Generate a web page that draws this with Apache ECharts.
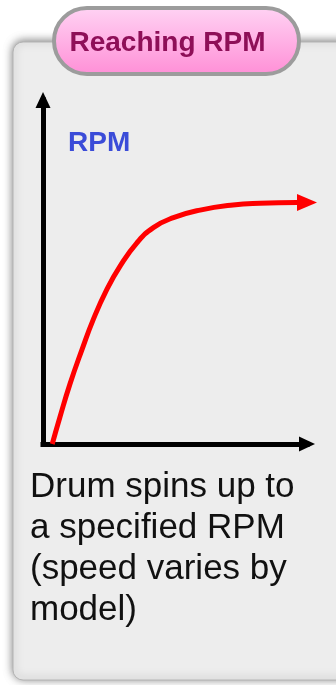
<!DOCTYPE html>
<html>
<head>
<meta charset="utf-8">
<script src="https://cdn.jsdelivr.net/npm/echarts@6/dist/echarts.min.js"></script>
<style>
html,body{margin:0;padding:0;background:#ffffff;}
#main{width:336px;height:685px;}
</style>
</head>
<body>
<div id="main"></div>
<script>
// ---- data ----
const titleText = 'Reaching RPM';
const axisLabelText = 'RPM';
const captionLines = ['Drum spins up to', 'a specified RPM', '(speed varies by', 'model)'];
const timeValues = [3.5, 6.4, 10.2, 14.7, 19.1, 24.1, 29.2, 35.5, 41.8, 49.4, 59.5, 72.0, 82.2, 96.2, 100];
const rpmValues  = [0, 7.8, 17.4, 27.3, 36.3, 44.8, 51.7, 58.4, 62.9, 65.8, 68.0, 69.5, 70.0, 70.2, 70.2];

const FONT = "'Liberation Sans', Arial, sans-serif";

const seriesData = timeValues.map(function (t, i) {
  const item = { value: [t, rpmValues[i]] };
  if (i === timeValues.length - 1) {
    item.symbol = 'triangle';
    item.symbolRotate = -90;
    item.symbolSize = [17, 20];
    item.itemStyle = { color: '#ff0000' };
  }
  return item;
});

const chart = echarts.init(document.getElementById('main'), null, { renderer: 'canvas' });

const axisLineCommon = {
  show: true,
  onZero: false,
  symbol: ['none', 'triangle'],
  symbolSize: [15, 16],
  lineStyle: { color: '#000000', width: 5, cap: 'square' }
};

chart.setOption({
  animation: false,
  backgroundColor: '#ffffff',
  graphic: [
    {
      type: 'rect',
      z: -10,
      shape: { x: 13, y: 42, width: 345, height: 638, r: 10 },
      style: {
        fill: '#ededed',
        stroke: '#b4b4b4',
        lineWidth: 1,
        shadowBlur: 8,
        shadowOffsetY: -1,
        shadowColor: 'rgba(0,0,0,0.5)'
      }
    },
    {
      type: 'rect',
      z: -5,
      shape: { x: 54, y: 8, width: 245, height: 66, r: 33 },
      style: {
        fill: {
          type: 'linear', x: 0, y: 0, x2: 0, y2: 1,
          colorStops: [
            { offset: 0, color: '#ffd4f4' },
            { offset: 1, color: '#ff8ed6' }
          ]
        },
        stroke: '#9c9c9c',
        lineWidth: 4
      }
    },
    {
      type: 'text',
      z: -4,
      style: {
        text: titleText,
        x: 167.5,
        y: 43.2,
        align: 'center',
        verticalAlign: 'middle',
        font: 'bold 28px ' + FONT,
        fill: '#8e0f58'
      }
    },
    {
      type: 'text',
      z: -4,
      style: {
        text: axisLabelText,
        x: 68,
        y: 143.3,
        align: 'left',
        verticalAlign: 'middle',
        font: 'bold 28px ' + FONT,
        fill: '#3b4cd8'
      }
    },
    {
      type: 'text',
      z: -4,
      style: {
        text: captionLines.join('\n'),
        x: 30,
        y: 467,
        align: 'left',
        verticalAlign: 'top',
        font: '35px ' + FONT,
        lineHeight: 41,
        fill: '#111111'
      }
    }
  ],
  grid: { left: 43, right: 29, top: 100, bottom: 241, containLabel: false },
  xAxis: {
    type: 'value', min: 0, max: 100,
    axisLine: axisLineCommon,
    axisTick: { show: false },
    axisLabel: { show: false },
    splitLine: { show: false }
  },
  yAxis: {
    type: 'value', min: 0, max: 100,
    axisLine: axisLineCommon,
    axisTick: { show: false },
    axisLabel: { show: false },
    splitLine: { show: false }
  },
  series: [
    {
      type: 'line',
      data: seriesData,
      smooth: 0.5,
      symbol: 'none',
      showSymbol: true,
      clip: false,
      z: 5,
      lineStyle: { color: '#ff0000', width: 5 },
      itemStyle: { color: '#ff0000' }
    }
  ]
});
</script>
</body>
</html>
